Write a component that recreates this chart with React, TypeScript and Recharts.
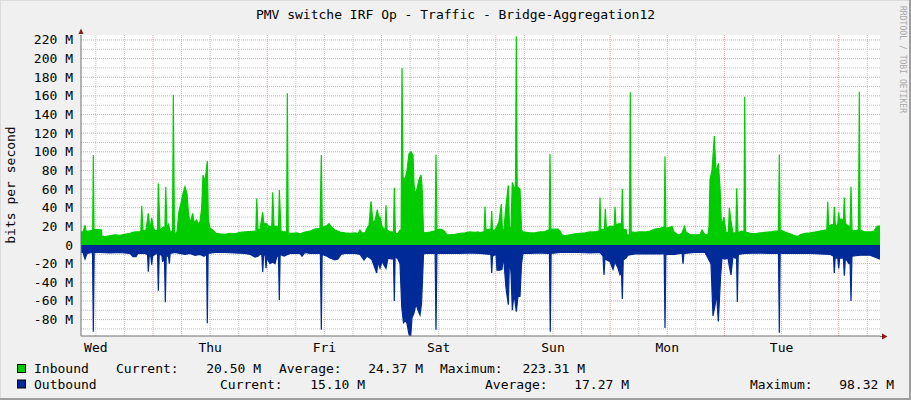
import React from 'react';
import { AreaChart, Area, XAxis, YAxis, CartesianGrid } from 'recharts';

const FONT = "'DejaVu Sans Mono', monospace";

// time axis: hours since Wednesday 00:00
const dayNames = ['Wed', 'Thu', 'Fri', 'Sat', 'Sun', 'Mon', 'Tue'];
const dayNoons = [12, 36, 60, 84, 108, 132, 156];
const midnights = [24, 48, 72, 96, 120, 144, 168];
const sixHours = [12, 18, 30, 36, 42, 54, 60, 66, 78, 84, 90, 102, 108, 114, 126, 132, 138, 150, 156, 162, 174];
const timeRange = [8.88, 176.67];

// value axis (M bits/s)
const yLabels = [-80, -60, -40, -20, 0, 20, 40, 60, 80, 100, 120, 140, 160, 180, 200, 220];
const yMinor = [-90, -70, -50, -30, -10, 10, 30, 50, 70, 90, 110, 130, 150, 170, 190, 210];
const valueRange = [-97.6, 225.3];

// [hour, Mbit/s]
const inboundPoints: [number, number][] = [
  [8.88, 14], [9.3, 14], [9.72, 21], [9.93, 15], [10.56, 15], [11.34, 16], [11.47, 96.6], [11.61, 16.8],
  [12.45, 16.5], [13.19, 16], [13.29, 9], [14.13, 9], [14.97, 10], [16.02, 11], [17.07, 10.5], [18.12, 11.5],
  [19.17, 12.5], [20.22, 14], [21.27, 14], [21.45, 15], [21.63, 42], [21.9, 15], [22.53, 16], [23.02, 34], [23.37, 16],
  [23.73, 29], [24.0, 20], [24.42, 15], [24.95, 16], [25.12, 66], [25.47, 16], [26.1, 19], [26.5, 18], [26.67, 62.6], [26.94, 18],
  [27.26, 22], [27.57, 15], [28.1, 14], [28.27, 161], [28.5, 12], [29.04, 14], [29.46, 36], [29.88, 45], [30.3, 55],
  [30.72, 62.6], [31.14, 55], [31.42, 36], [31.77, 23], [32.34, 34], [32.61, 24], [33.18, 27], [33.45, 22],
  [33.87, 25], [34.23, 40], [34.5, 75], [34.92, 68], [35.41, 90], [35.62, 27], [35.97, 18], [36.6, 16],
  [37.23, 12.5], [38.07, 12], [39.12, 11.5], [40.17, 12.5], [41.22, 12], [42.27, 13.5], [43.32, 14], [44.37, 14.5],
  [45.42, 15], [45.6, 15], [45.78, 50], [46.05, 16], [46.47, 17], [47.04, 35], [47.31, 22], [47.73, 23], [48.36, 20],
  [48.95, 20], [49.14, 56.5], [49.41, 20], [50.04, 20], [50.35, 16], [50.53, 59], [50.88, 15], [51.51, 14], [52.05, 14],
  [52.21, 162.7], [52.4, 13], [53.19, 12.5], [54.24, 13], [54.87, 12], [55.92, 14], [56.97, 15], [58.02, 17], [59.07, 18],
  [59.35, 96.6], [59.55, 19], [60.12, 20], [60.54, 21], [60.96, 23], [61.38, 20], [62.22, 16], [63.27, 14], [64.32, 13],
  [65.37, 12.5], [66.42, 13], [67.05, 12], [67.47, 16], [67.89, 13], [68.52, 13], [68.94, 18], [69.36, 21],
  [69.78, 47], [70.2, 24], [70.62, 26], [71.11, 38], [71.46, 28], [71.67, 30], [72.09, 20], [72.51, 17], [72.75, 17],
  [72.93, 42.6], [73.15, 16], [73.77, 14], [74.19, 14], [74.5, 13], [74.68, 61.5], [74.9, 12], [75.45, 12.5], [75.87, 16],
  [76.1, 16], [76.29, 190], [76.5, 73], [76.92, 70], [77.34, 80], [77.76, 98], [78.18, 100], [78.6, 96], [78.81, 65],
  [79.02, 55], [79.44, 60], [79.86, 70], [80.28, 75], [80.49, 64], [80.81, 14], [81.12, 13], [82.17, 14],
  [83.01, 15], [83.25, 15], [83.43, 97], [83.62, 16], [84.27, 17], [84.9, 16], [85.32, 14], [85.74, 11], [86.37, 11],
  [87.42, 11.5], [88.47, 12.5], [89.52, 13], [90.57, 14], [91.62, 13.5], [92.25, 14], [92.67, 13], [93.3, 14],
  [93.55, 14], [93.72, 41], [93.9, 16], [94.77, 17], [94.95, 17], [95.13, 36.5], [95.3, 16], [95.82, 16], [96.24, 20],
  [96.66, 25], [97.15, 44], [97.4, 13], [97.71, 18], [98.13, 42], [98.62, 64], [98.87, 16], [99.18, 20], [99.46, 67],
  [99.81, 62], [100.12, 62], [100.3, 224], [100.48, 62.6], [101.07, 60], [101.39, 16], [101.7, 14], [103.17, 13],
  [104.22, 13], [105.27, 14], [106.32, 14.5], [106.95, 16], [107.2, 16], [107.37, 97.6], [107.55, 17], [108.42, 17],
  [109.05, 17], [109.47, 15], [109.89, 11], [110.52, 10], [111.57, 11], [112.62, 12], [113.67, 12.5], [114.72, 13],
  [115.77, 14], [116.82, 14], [117.45, 15], [117.7, 15], [117.87, 51], [118.05, 16], [118.8, 17], [118.99, 39], [119.2, 18],
  [119.97, 20], [120.6, 20], [120.85, 20], [121.02, 41], [121.2, 22], [122.07, 23], [122.38, 22], [122.56, 60], [122.75, 16],
  [123.33, 17], [123.65, 9], [124.05, 12], [124.24, 164], [124.42, 14], [125.22, 13.5], [126.27, 14], [127.32, 14],
  [128.37, 15], [129.42, 17], [130.47, 18], [131.1, 19], [131.35, 19], [131.52, 95], [131.7, 18], [132.57, 19],
  [132.99, 20], [133.41, 14], [134.25, 11], [134.67, 11], [135.09, 13], [135.62, 20], [135.93, 14], [136.77, 11],
  [137.82, 11], [138.87, 11], [139.29, 16], [139.92, 11], [140.55, 11], [140.76, 20], [140.97, 70], [141.39, 80],
  [141.88, 117], [142.23, 77], [142.72, 87.6], [143.07, 62], [143.39, 20], [143.91, 30], [144.33, 13], [144.85, 14],
  [145.03, 40], [145.38, 25], [145.8, 13], [146.4, 13], [146.58, 61], [146.85, 13], [147.59, 15], [148.1, 14],
  [148.26, 159], [148.45, 14], [149.37, 12.5], [150.42, 12], [151.47, 13], [152.52, 13.5], [153.57, 14], [154.62, 15],
  [155.35, 15], [155.53, 97], [155.72, 16], [156.72, 14], [157.77, 12], [158.82, 10], [159.45, 9], [159.87, 11],
  [160.92, 12.5], [161.97, 13], [163.02, 14], [164.07, 15], [165.12, 16], [165.5, 16], [165.69, 46.5], [165.9, 20],
  [166.59, 22], [166.9, 21], [167.08, 41], [167.3, 20], [167.8, 22], [168.0, 35], [168.2, 25], [168.48, 28],
  [168.98, 26], [169.18, 51], [169.4, 23], [170.16, 20], [170.4, 20], [170.58, 62.6], [170.8, 15], [171.95, 16],
  [172.15, 16], [172.33, 164.5], [172.5, 16], [173.52, 14], [174.57, 14], [175.41, 15], [176.04, 20], [176.67, 20.5],
];

const outboundPoints: [number, number][] = [
  [8.88, 8], [9.3, 8], [9.72, 15], [10.14, 9], [11.19, 8], [11.3, 8], [11.47, 93], [11.65, 8], [12.87, 8],
  [14.97, 8.5], [17.07, 8], [19.17, 9], [19.8, 12.5], [20.43, 12.5], [20.85, 9], [22.32, 9], [22.74, 10], [22.85, 10],
  [23.02, 28.6], [23.2, 12], [23.55, 12], [23.73, 21], [23.9, 12], [24.63, 9], [24.95, 10], [25.12, 49], [25.3, 10],
  [25.85, 11], [26.04, 18], [26.4, 12], [26.59, 61.5], [26.78, 12], [27.25, 12], [27.43, 20], [27.6, 9], [28.62, 8],
  [29.67, 9], [30.72, 10], [31.77, 9], [32.82, 11], [33.87, 10], [34.71, 12], [35.25, 10], [35.41, 84], [35.58, 9],
  [37.02, 8], [39.12, 8], [41.22, 8.5], [43.32, 9], [44.37, 10], [45.42, 13], [46.05, 12], [46.47, 10], [46.85, 10],
  [47.04, 29], [47.22, 11], [47.55, 11], [47.73, 25], [47.9, 14], [48.57, 20], [49.14, 18], [49.62, 20], [50.04, 12],
  [50.35, 12], [50.53, 59], [50.7, 10], [51.51, 12], [52.77, 9], [54.87, 9], [55.29, 12], [55.92, 8], [56.97, 9],
  [59.15, 9], [59.35, 91], [59.52, 10], [60.54, 12], [61.17, 14], [62.22, 16], [62.85, 15], [63.48, 10], [64.32, 9],
  [65.37, 9], [66.42, 9], [67.47, 10], [68.31, 16], [68.94, 12], [69.57, 14], [69.99, 16], [70.41, 22], [70.98, 30],
  [71.25, 18], [71.67, 25], [72.09, 18], [72.93, 25], [73.35, 14], [73.98, 15], [74.5, 15], [74.68, 60], [74.85, 12],
  [75.45, 15], [75.87, 20], [76.23, 66], [76.61, 84], [76.92, 80], [77.34, 84], [77.76, 96], [78.12, 98], [78.39, 78],
  [78.81, 73], [79.23, 63], [79.65, 70], [80.07, 75], [80.39, 63], [80.81, 10], [81.12, 9], [82.17, 9],
  [83.25, 9], [83.43, 91], [83.62, 9], [85.32, 9], [88.47, 9], [90.57, 8.5], [92.67, 9], [93.72, 9.5],
  [94.95, 10], [95.13, 30], [95.3, 12], [96.03, 10], [96.24, 27], [96.87, 27], [97.29, 26], [97.61, 12],
  [98.13, 46], [98.62, 64], [98.87, 13], [99.18, 30], [99.46, 70], [99.81, 52], [100.3, 71.5], [100.65, 55],
  [101.07, 55], [101.39, 20], [101.7, 9], [103.17, 9], [105.27, 8.5], [106.95, 9], [107.25, 9], [107.43, 93], [107.6, 9],
  [109.47, 8], [111.57, 8], [113.67, 8], [115.77, 8.5], [117.87, 8], [118.5, 12], [118.71, 32], [118.9, 15],
  [119.97, 18], [120.6, 26], [121.02, 18], [121.65, 25], [122.07, 32], [122.38, 30], [122.56, 58], [122.75, 16],
  [123.33, 14], [123.75, 11], [125.22, 9.5], [127.32, 9.5], [129.42, 9.5], [131.35, 9.5], [131.52, 89], [131.7, 10],
  [133.62, 10], [134.67, 9], [135.12, 9], [135.3, 20], [135.5, 9], [137.82, 8], [139.92, 8], [140.76, 16], [141.18, 20],
  [141.6, 76], [142.02, 65], [142.34, 52], [142.72, 82], [143.18, 35], [143.49, 14], [144.12, 15], [144.75, 14],
  [145.03, 23], [145.38, 32], [145.8, 12], [146.22, 14], [146.55, 14], [146.71, 61], [146.9, 10], [148.32, 9],
  [151.47, 8.5], [153.57, 9], [155.35, 9], [155.53, 94], [155.7, 9], [157.77, 9], [159.87, 9], [161.97, 9], [164.07, 9.5],
  [166.17, 10], [166.9, 12], [167.08, 30], [167.25, 14], [167.8, 14], [168.0, 25], [168.2, 14], [168.98, 14],
  [169.18, 33], [169.4, 14], [170.16, 20], [170.4, 20], [170.58, 60], [170.78, 12], [172.47, 11], [174.57, 11],
  [176.67, 15.1],
];

const legendRows = [
  { name: 'Inbound', color: '#00cc00', current: '20.50 M', average: '24.37 M', maximum: '223.31 M' },
  { name: 'Outbound', color: '#002a97', current: '15.10 M', average: '17.27 M', maximum: '98.32 M' },
];

const inboundData = inboundPoints.map(([t, v]) => ({ t, v }));
const outboundData = outboundPoints.map(([t, v]) => ({ t, v: -v }));

const fmtY = (v: number) => (v === 0 ? '0' : `${v} M`);

const YTick = (props: any) => {
  const { x, y, payload } = props;
  return (
    <text x={x} y={y} dy={4.5} textAnchor="end" fontFamily={FONT} fontSize={13} fill="#000">
      {fmtY(payload.value)}
    </text>
  );
};

const XTick = (props: any) => {
  const { x, y, payload } = props;
  const i = dayNoons.indexOf(payload.value);
  return (
    <text x={x} y={y} dy={8} textAnchor="middle" fontFamily={FONT} fontSize={13} fill="#000">
      {dayNames[i]}
    </text>
  );
};

export default function App() {
  return (
    <div style={{ position: 'absolute', left: 0, top: 0, width: 911, height: 400, background: '#f0f0f0', overflow: 'hidden' }}>
      <AreaChart width={911} height={400} margin={{ top: 35, right: 31, bottom: 34, left: 11 }}>
        <CartesianGrid
          fill="#ffffff"
          stroke="#c4c4c4"
          strokeDasharray="1 1"
          horizontalValues={yMinor}
          verticalValues={sixHours}
        />
        <CartesianGrid
          stroke="#e6a0a0"
          strokeDasharray="1 1"
          horizontalValues={yLabels}
          verticalValues={midnights}
        />
        <XAxis
          type="number"
          dataKey="t"
          domain={timeRange}
          allowDataOverflow
          ticks={dayNoons}
          interval={0}
          height={30}
          tickLine={false}
          tickSize={6}
          tickMargin={2}
          axisLine={{ stroke: '#707070' }}
          tick={<XTick />}
        />
        <YAxis
          type="number"
          domain={valueRange}
          allowDataOverflow
          ticks={yLabels}
          interval={0}
          width={70}
          tickLine={false}
          tickSize={6}
          tickMargin={2}
          axisLine={{ stroke: '#707070' }}
          tick={<YTick />}
        />
        <Area
          data={inboundData}
          dataKey="v"
          type="linear"
          baseValue={0}
          fill="#00cc00"
          fillOpacity={1}
          stroke="#00cc00"
          strokeWidth={1.2}
          dot={false}
          activeDot={false}
          isAnimationActive={false}
        />
        <Area
          data={outboundData}
          dataKey="v"
          type="linear"
          baseValue={0}
          fill="#002a97"
          fillOpacity={1}
          stroke="#002a97"
          strokeWidth={1.2}
          dot={false}
          activeDot={false}
          isAnimationActive={false}
        />
      </AreaChart>

      <svg width={911} height={400} style={{ position: 'absolute', left: 0, top: 0, pointerEvents: 'none' }}>
        {/* frame shading */}
        <line x1={0} y1={0.5} x2={911} y2={0.5} stroke="#dcdcdc" />
        <line x1={0.5} y1={0} x2={0.5} y2={400} stroke="#dcdcdc" />
        <rect x={909} y={0} width={2} height={400} fill="#9e9e9e" />
        <rect x={0} y={398} width={911} height={2} fill="#9e9e9e" />

        <text x={455.5} y={19} textAnchor="middle" fontFamily={FONT} fontSize={13} fill="#000">
          PMV switche IRF Op - Traffic - Bridge-Aggregation12
        </text>
        <text x={15} y={185} textAnchor="middle" transform="rotate(-90 15 185)" fontFamily={FONT} fontSize={13} fill="#000">
          bits per second
        </text>
        <text
          x={900}
          y={6}
          transform="rotate(90 900 6)"
          fontFamily={FONT}
          fontSize={8}
          textLength={107}
          lengthAdjust="spacingAndGlyphs"
          fill="#a8a8a8"
        >
          RRDTOOL / TOBI OETIKER
        </text>

        {/* axis arrows */}
        <line x1={880} y1={336.5} x2={883} y2={336.5} stroke="#707070" />
        <polygon points="78.5,34 81,28.5 83.5,34" fill="#8b1a1a" />
        <polygon points="882,333.5 887.5,336.5 882,339.5" fill="#8b1a1a" />

        {/* legend */}
        {legendRows.map((r, i) => {
          const y = 373 + i * 15.5;
          const pos = i === 0
            ? { cur: 116, curV: 261, avg: 279, avgV: 423, max: 440, maxV: 585 }
            : { cur: 220, curV: 365, avg: 485, avgV: 629, max: 750, maxV: 894 };
          return (
            <g key={r.name} fontFamily={FONT} fontSize={13} fill="#000">
              <rect x={17.5} y={y - 8.5} width={8} height={8} fill={r.color} stroke="#000" />
              <text x={34} y={y}>{r.name}</text>
              <text x={pos.cur} y={y}>Current:</text>
              <text x={pos.curV} y={y} textAnchor="end">{r.current}</text>
              <text x={pos.avg} y={y}>Average:</text>
              <text x={pos.avgV} y={y} textAnchor="end">{r.average}</text>
              <text x={pos.max} y={y}>Maximum:</text>
              <text x={pos.maxV} y={y} textAnchor="end">{r.maximum}</text>
            </g>
          );
        })}
      </svg>
    </div>
  );
}
